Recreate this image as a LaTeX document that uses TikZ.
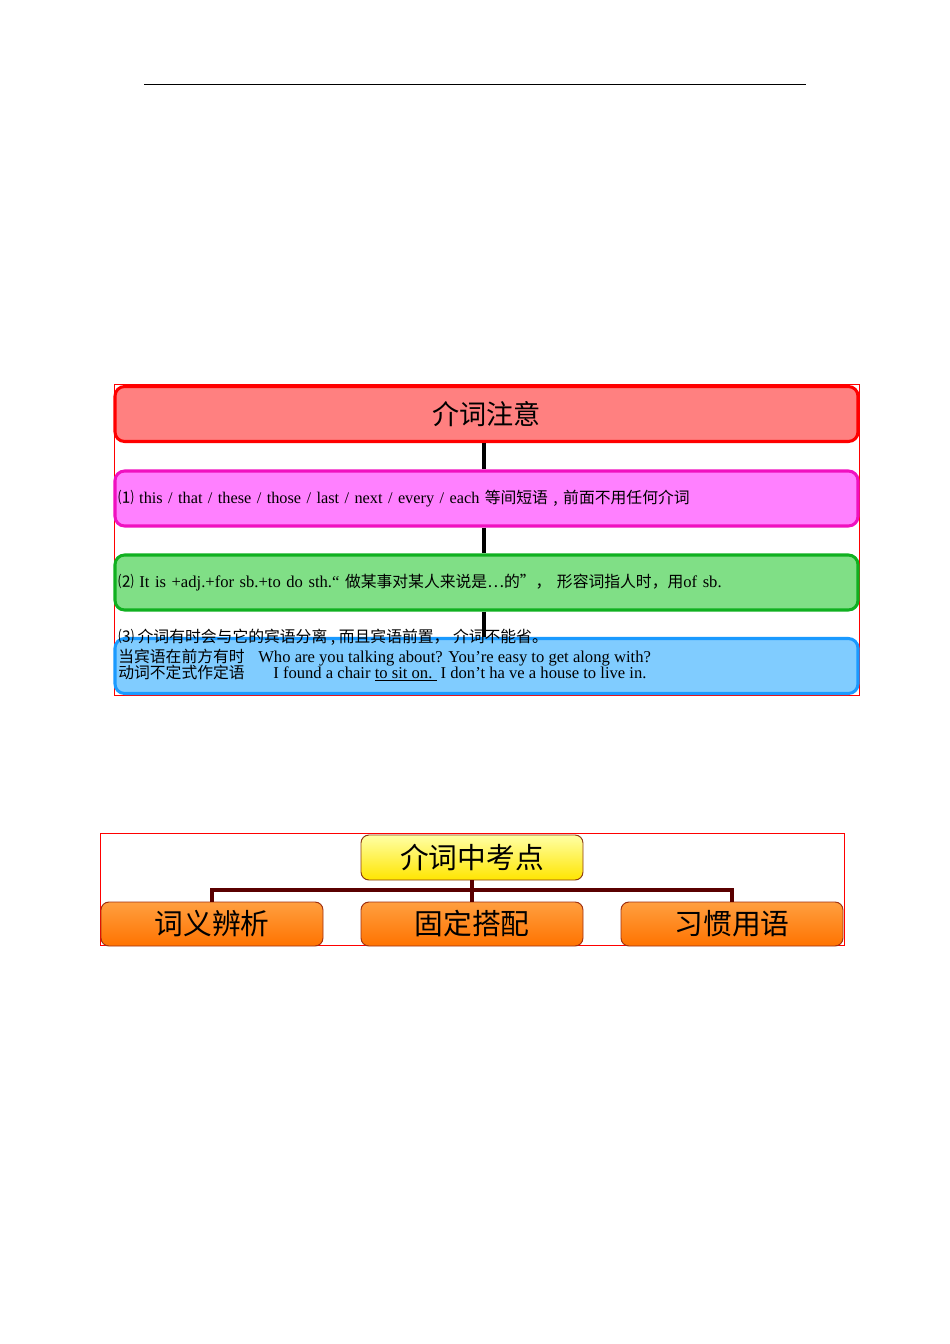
\documentclass[tikz,border=0pt]{standalone}
\usepackage{fontspec}
\setmainfont{Liberation Serif}
\newfontfamily\cjk{Noto Sans CJK SC}
\usetikzlibrary{positioning}
\newdimen\unitpx \unitpx=0.6263pt
\newcommand\zh[1]{{\cjk\fontsize{9.9}{12}\selectfont #1}}

\definecolor{titlefill}{HTML}{FF8080}
\definecolor{pinkfill}{HTML}{FF80FF}
\definecolor{pinkline}{HTML}{F010C0}
\definecolor{greenfill}{HTML}{80DF86}
\definecolor{greenline}{HTML}{10B020}
\definecolor{bluefill}{HTML}{80CCFF}
\definecolor{blueline}{HTML}{1A9AFF}
\definecolor{rootline}{HTML}{8B3A10}
\definecolor{leafline}{HTML}{A03010}
\definecolor{trunkline}{HTML}{5A0000}

\begin{document}
\begin{tikzpicture}[x=\unitpx,y=-\unitpx,
    notebox/.style={line width=1.9pt, rounded corners=6pt, minimum width=743*\unitpx,
        minimum height=55*\unitpx, inner xsep=3*\unitpx},
    notetext/.style={anchor=base west, inner sep=0pt, font=\fontsize{10.4}{12}\selectfont},
    spine/.style={line width=2.5pt, black},
    keybox/.style={draw, line width=0.6pt, rounded corners=5pt, minimum width=222*\unitpx,
        font=\cjk\fontsize{18}{20}\selectfont},
    trunk/.style={trunkline, line width=1.9pt}]
    \useasboundingbox (0,0) rectangle (950,1344);

    % rule at the top of the page
    \draw[line width=0.6pt] (144,84) -- (806,84);

    % frames
    \draw[red, line width=0.5pt] (114,384) rectangle (859,695);
    \draw[red, line width=0.5pt] (100,833) rectangle (844,945);

    % boxes of the first diagram
    \node[notebox, draw=red, fill=titlefill, font=\cjk\fontsize{17}{20}\selectfont] (title) at (486.5,414) {介词注意};
    \node[notebox, draw=pinkline, fill=pinkfill, text width=737*\unitpx, align=left,
        font=\fontsize{10.2}{12}\selectfont] (itemA) at (486.5,498.5)
        {\zh{⑴} this / that / these / those / last / next / every / each \zh{等间短语 , 前面不用任何介词}};
    \node[notebox, draw=greenline, fill=greenfill, text width=737*\unitpx, align=left,
        font=\fontsize{10.4}{12}\selectfont] (itemB) at (486.5,582.5)
        {\zh{⑵} It is +adj.+for sb.+to do sth.“ \zh{做某事对某人来说是…的”，\ 形容词指人时，用}of sb.};
    \node[notebox, draw=blueline, fill=bluefill] (itemC) at (486.5,666) {};

    % links
    \draw[spine] ([xshift=-2.5*\unitpx]title.south) -- ([xshift=-2.5*\unitpx]itemA.north);
    \draw[spine] ([xshift=-2.5*\unitpx]itemA.south) -- ([xshift=-2.5*\unitpx]itemB.north);
    \draw[spine] ([xshift=-2.5*\unitpx]itemB.south) -- ([xshift=-2.5*\unitpx]itemC.north);

    % text of the third box
    \node[notetext] (lineA) at (118,642)
        {\zh{⑶ 介词有时会与它的宾语分离 , 而且宾语前置， 介词不能省。}};
    \node[notetext] (lineB) at (118,662)
        {\makebox[140\unitpx][l]{\zh{当宾语在前方有时}}Who are you talking about? You’re easy to get along with?};
    \node[notetext] (lineC) at (118,678)
        {\makebox[155\unitpx][l]{\zh{动词不定式作定语}}I found a chair \underline{to sit on.\ } I don’t ha ve a house to live in.};

    % boxes of the second diagram
    \node[keybox, draw=rootline, top color=yellow!35, bottom color=yellow!80!orange,
        minimum height=45*\unitpx] (root) at (472,857.5) {介词中考点};
    \node[keybox, draw=leafline, top color=orange!75, bottom color=orange!90!red,
        minimum height=44*\unitpx] (leafA) at (212,924) {词义辨析};
    \node[keybox, draw=leafline, top color=orange!75, bottom color=orange!90!red,
        minimum height=44*\unitpx] (leafB) at (472,924) {固定搭配};
    \node[keybox, draw=leafline, top color=orange!75, bottom color=orange!90!red,
        minimum height=44*\unitpx] (leafC) at (732,924) {习惯用语};

    % tree
    \coordinate (fork) at (472,890);
    \draw[trunk] (root.south) -- (fork) -| (leafA.north);
    \draw[trunk] (fork) -| (leafC.north);
    \draw[trunk] (fork) -- (leafB.north);
\end{tikzpicture}
\end{document}
